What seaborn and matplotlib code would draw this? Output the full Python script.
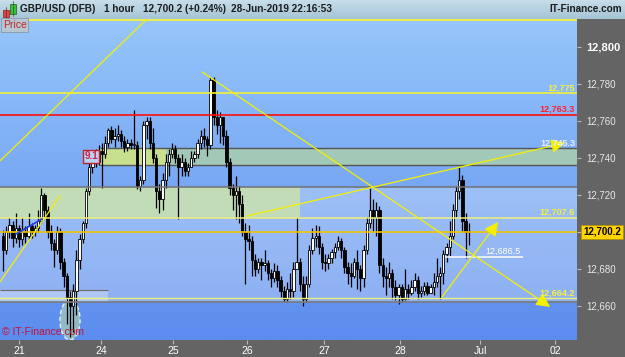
import numpy as np
import pandas as pd
import matplotlib
matplotlib.use("Agg")
import matplotlib.pyplot as plt
from matplotlib.patches import Rectangle, Ellipse
import seaborn as sns

# ---------------- data ----------------
first_open = 12698
closes = [12690,12700,12704,12697,12702,12696,12700,12698,12703,12700,
          12702,12706,12720,12712,12700,12694,12690,12700,12684,12676,
          12665,12660,12668,12685,12696,12705,12722,12735,12740,12738,
          12744,12742,12748,12755,12750,12752,12753,12749,12746,12748,
          12747,12747,12725,12728,12758,12760,12748,12740,12722,12718,
          12728,12738,12742,12745,12740,12735,12738,12733,12735,12740,
          12742,12748,12752,12750,12747,12782,12762,12758,12762,12752,
          12738,12724,12720,12722,12715,12700,12696,12695,12685,12680,
          12684,12682,12683,12678,12675,12679,12674,12668,12664,12669,
          12668,12680,12684,12672,12664,12672,12690,12697,12698,12692,
          12684,12683,12686,12689,12692,12695,12690,12681,12678,12676,
          12684,12680,12675,12690,12705,12712,12708,12712,12682,12676,
          12675,12678,12670,12666,12670,12664,12669,12667,12670,12674,
          12667,12668,12671,12667,12670,12673,12676,12678,12688,12692,
          12698,12712,12722,12728,12706,12700,12700.2]
highs = [12701,12703,12708,12706,12710,12704,12708,12703,12710,12705,
         12704,12712,12724,12721,12714,12704,12696,12703,12702,12686,
         12678,12668,12672,12690,12699,12706,12724,12738,12744,12745,
         12747,12748,12752,12756,12757,12756,12758,12755,12752,12750,
         12750,12766,12749,12730,12760,12762,12762,12756,12742,12726,
         12732,12742,12745,12748,12747,12742,12742,12740,12737,12744,
         12744,12750,12755,12756,12752,12784,12784,12766,12765,12762,
         12755,12740,12726,12730,12725,12720,12705,12704,12698,12688,
         12686,12686,12690,12685,12680,12683,12682,12676,12671,12673,
         12678,12684,12708,12686,12676,12676,12693,12702,12704,12703,
         12694,12688,12688,12691,12694,12698,12697,12692,12684,12683,
         12686,12690,12682,12693,12708,12724,12718,12716,12714,12686,
         12681,12684,12680,12674,12672,12672,12680,12672,12674,12678,
         12676,12671,12673,12673,12672,12678,12686,12681,12690,12694,
         12706,12715,12725,12735,12731,12710,12705]
lows = [12679,12688,12697,12692,12694,12692,12693,12694,12696,12697,
        12698,12700,12705,12708,12697,12690,12681,12688,12680,12670,
        12650,12643,12646,12655,12680,12694,12702,12720,12732,12735,
        12736,12724,12740,12746,12748,12746,12749,12746,12743,12744,
        12745,12745,12723,12722,12726,12750,12745,12737,12713,12710,
        12712,12724,12730,12740,12737,12707,12730,12730,12730,12735,
        12738,12740,12745,12746,12741,12745,12758,12753,12748,12747,
        12735,12720,12712,12707,12705,12698,12672,12690,12676,12676,
        12678,12674,12679,12674,12670,12673,12670,12665,12662,12662,
        12664,12665,12680,12668,12660,12662,12670,12688,12692,12688,
        12680,12679,12680,12683,12686,12690,12686,12678,12672,12670,
        12675,12669,12668,12670,12688,12702,12700,12698,12678,12670,
        12666,12670,12664,12663,12661,12662,12663,12664,12666,12668,
        12664,12665,12666,12666,12667,12666,12670,12664,12672,12684,
        12687,12696,12708,12718,12700,12686,12693]

day_labels = ["21", "24", "25", "26", "27", "28", "Jul", "02"]
day_pos = [5.0, 30.7, 53.3, 76.5, 100.6, 124.5, 149.5, 173.0]   # candle-index of midnight
y_ticks = [12660, 12680, 12700, 12720, 12740, 12760, 12780, 12800]

level_775 = 12775
level_763 = 12763.3
level_745 = 12745.3
level_736 = 12736.3
level_724 = 12724.5
level_707 = 12707.6
level_700 = 12700.2
level_686 = 12686.5
level_664 = 12664.2
level_662 = 12662.3

# trend lines: (x0, y0, x1, y1) in candle-index / price
trend_plain = [(-0.94, 12738.4, 45.1, 12815.1),
               (-0.94, 12673.0, 17.9, 12719.5)]
trend_blue = (4.1, 12698.9, 12.2, 12707.0)
trend_arrows = [(62.4, 12786.5, 171.5, 12659.5),
                (76.5, 12708.6, 176.2, 12748.1),
                (137.6, 12664.9, 155.2, 12705.4)]

n = len(closes)
opens = [first_open] + closes[:-1]
df = pd.DataFrame({"i": np.arange(n), "open": opens, "close": closes,
                   "high": highs, "low": lows})
df["up"] = df["close"] >= df["open"]

# ---------------- style ----------------
sns.set_theme(style="white")
plt.rcParams["font.family"] = ["Liberation Sans", "DejaVu Sans"]

W, H = 625, 357
fig = plt.figure(figsize=(W / 100, H / 100), dpi=100, facecolor="#646464")

def fx(px):
    return px / W

def fy(py):
    return 1 - py / H

XMIN, XMAX = -0.94, 179.9
YMIN, YMAX = 12641.6, 12815.1

ax = fig.add_axes([0, fy(340), fx(577), (340 - 19) / H])
ax.set_xlim(XMIN, XMAX)
ax.set_ylim(YMIN, YMAX)
for s in ax.spines.values():
    s.set_visible(False)

# background gradient
top_c = np.array([150, 198, 250]) / 255
bot_c = np.array([92, 140, 238]) / 255
t = np.linspace(0, 1, 256)[:, None, None]
grad = top_c * (1 - t) + bot_c * t
ax.imshow(grad, extent=[XMIN, XMAX, YMIN, YMAX], aspect="auto", zorder=0,
          origin="upper")

# light overlay zone
ax.add_patch(Rectangle((XMIN, level_662), XMAX - XMIN, level_724 - level_662,
                       facecolor="white", alpha=0.28, edgecolor="none", zorder=1))
# green zone left
x300 = (300 - 3) / 3.19
ax.add_patch(Rectangle((XMIN, level_707), x300 - XMIN, level_724 - level_707,
                       facecolor="#c2dcb8", edgecolor="none", zorder=1.2))
# upper zone
x100 = (100 - 3) / 3.19
x168 = (166 - 3) / 3.19
ax.add_patch(Rectangle((x100, level_736), x168 - x100, level_745 - level_736,
                       facecolor="#c8e08e", edgecolor="none", zorder=1.2))
ax.add_patch(Rectangle((x168, level_736), XMAX - x168, level_745 - level_736,
                       facecolor="#a2c8b8", edgecolor="none", zorder=1.2))
ax.hlines([level_745, level_736], x100, XMAX, colors="#555555", lw=1.0, zorder=1.3)
# small rect at bottom left
x108 = (108 - 3) / 3.19
ax.add_patch(Rectangle((XMIN, level_662), x108 - XMIN, 12668.6 - level_662,
                       facecolor="white", alpha=0.3, edgecolor="none", zorder=1.3))
ax.hlines(12668.6, XMIN, x108, colors="#707070", lw=0.9, zorder=1.3)

# ellipse
ax.add_patch(Ellipse((21, 12652.4), 6.3, 21.6, facecolor="#9cc2c0", alpha=0.85,
                     edgecolor="white", ls=(0, (3, 2)), lw=1.0, zorder=1.4))

# candles
w = 0.74
ax.vlines(df["i"], df["low"], df["high"], colors="black", lw=0.9, zorder=3)
bottoms = df[["open", "close"]].min(axis=1)
heights = (df["close"] - df["open"]).abs().clip(lower=0.6)
ax.bar(df["i"], heights, bottom=bottoms, width=w,
       color=np.where(df["up"], "white", "black"),
       edgecolor="black", linewidth=0.6, zorder=3.5)

# horizontal lines
ax.axhline(level_724, color="#727272", lw=1.1, zorder=4)
ax.axhline(level_775, color="#f2f23a", lw=1.2, zorder=4)
ax.axhline(level_763, color="#ff1010", lw=1.2, zorder=4)
ax.axhline(level_707, color="#eef07a", lw=1.1, zorder=4)
ax.axhline(level_700, color="#f2c400", lw=1.2, zorder=4)
ax.axhline(level_664, color="#eef07a", lw=1.0, zorder=4)
ax.axhline(level_662, color="#7a7a7a", lw=1.2, zorder=4)
x27 = (27 - 3) / 3.19
ax.hlines(YMAX - 0.5, x27, XMAX, colors="#e8ec50", lw=1.5, zorder=4)
x445 = (445 - 3) / 3.19
x523 = (523 - 3) / 3.19
ax.hlines(level_686, x445, x523, colors="white", lw=1.1, zorder=4)

# trend lines
yel = "#f4f000"
for x0, y0, x1, y1 in trend_plain:
    ax.plot([x0, x1], [y0, y1], color=yel, lw=0.9, zorder=5)
ax.plot([trend_blue[0], trend_blue[2]], [trend_blue[1], trend_blue[3]],
        color="#2040e0", lw=1.2, zorder=5)
for x0, y0, x1, y1 in trend_arrows:
    ax.annotate("", xy=(x1, y1), xytext=(x0, y0),
                arrowprops=dict(arrowstyle="-|>,head_length=0.7,head_width=0.35",
                                color=yel, lw=0.9, shrinkA=0, shrinkB=0),
                zorder=5)

# level labels
xr = (575 - 3) / 3.19
lab_kw = dict(ha="right", va="bottom", fontsize=6.5, fontweight="bold", zorder=6)
ax.text(xr, level_775 + 0.6, "12,775", color="#f4f040", **lab_kw)
ax.text(xr, level_763 + 0.6, "12,763.3", color="#ff2030", **lab_kw)
ax.text(xr, level_745 + 0.6, "12,745.3", color="#e6f0ff", **lab_kw)
ax.text(xr, level_707 + 0.6, "12,707.6", color="#f4f040", **lab_kw)
ax.text(xr, level_664 + 0.6, "12,664.2", color="#f4f040", **lab_kw)
ax.text((503 - 3) / 3.19, level_686 + 0.8, "12,686.5", color="white",
        ha="center", va="bottom", fontsize=6.5, zorder=6)
ax.text((91 - 3) / 3.19, (level_745 + level_736) / 2, "9.1", color="#d0203c",
        ha="center", va="center", fontsize=7, fontweight="bold", zorder=6,
        bbox=dict(boxstyle="square,pad=0.15", facecolor="#b8d2f4",
                  edgecolor="#c02030", lw=1.0))

# y axis on the right (12,700 label sits under the current-price tag)
ax.yaxis.tick_right()
ax.set_yticks(y_ticks)
ax.set_yticklabels(["" if v == 12700 else f"{v:,}" for v in y_ticks])
ax.tick_params(axis="y", right=True, length=3, width=0.8, color="#bbbbbb",
               pad=4, labelsize=7, labelcolor="#e8e8e8", direction="out")
for lbl in ax.get_yticklabels():
    if lbl.get_text() == "12,800":
        lbl.set_fontweight("bold")
        lbl.set_fontsize(8)
        lbl.set_color("white")
ax.text(1.0105, level_700, "12,700.2", transform=ax.get_yaxis_transform(),
        ha="left", va="center", fontsize=7, fontweight="bold", color="black",
        zorder=10, clip_on=False,
        bbox=dict(boxstyle="square,pad=0.2", facecolor="#ffd400",
                  edgecolor="#b09000", lw=0.6))

# x axis
ax.set_xticks(day_pos)
ax.set_xticklabels(day_labels)
ax.tick_params(axis="x", bottom=True, length=3, width=0.8, color="#bbbbbb",
               pad=1.5, labelsize=7.5, labelcolor="white", direction="out")
ax.grid(False)

# header
hax = fig.add_axes([0, fy(19), 1, 19 / H])
hg = np.linspace(0, 1, 64)[:, None, None]
hgrad = np.array([200, 222, 234]) / 255 * (1 - hg) + np.array([164, 196, 212]) / 255 * hg
hax.imshow(hgrad, extent=[0, 1, 0, 1], aspect="auto", origin="upper")
hax.set_xlim(0, 1)
hax.set_ylim(0, 1)
hax.axis("off")
hax.add_patch(Rectangle((fx(3), 0.12), fx(6), 0.35, facecolor="#e04848",
                        edgecolor="#802020", lw=0.5))
hax.plot([fx(6), fx(6)], [0.05, 0.62], color="#802020", lw=0.5)
hax.add_patch(Rectangle((fx(10), 0.25), fx(6), 0.55, facecolor="#38c038",
                        edgecolor="#206020", lw=0.5))
hax.plot([fx(13), fx(13)], [0.15, 0.95], color="#206020", lw=0.5)
hy = 0.5
hk = dict(fontsize=7.2, fontweight="bold", color="#1c1c1c", va="center")
hax.text(fx(20), hy, "GBP/USD (DFB)", ha="left", **hk)
hax.text(fx(104), hy, "1 hour", ha="left", **hk)
hax.text(fx(143), hy, "12,700.2 (+0.24%)", ha="left", **hk)
hax.text(fx(231), hy, "28-Jun-2019 22:16:53", ha="left", **hk)
hax.text(fx(622), hy, "IT-Finance.com", ha="right", **hk)

# Price tag and watermark
fig.text(fx(3), fy(25), "Price", color="#c02828", fontsize=7.5, ha="left",
         va="center", zorder=20,
         bbox=dict(boxstyle="square,pad=0.15", facecolor="#b8c6d2",
                   edgecolor="#8a98a4", lw=0.6))
fig.text(fx(2), fy(332), "© IT-Finance.com", color="#c01438", fontsize=7.5,
         ha="left", va="center", zorder=20)

fig.savefig("out.png", dpi=100, facecolor=fig.get_facecolor())
